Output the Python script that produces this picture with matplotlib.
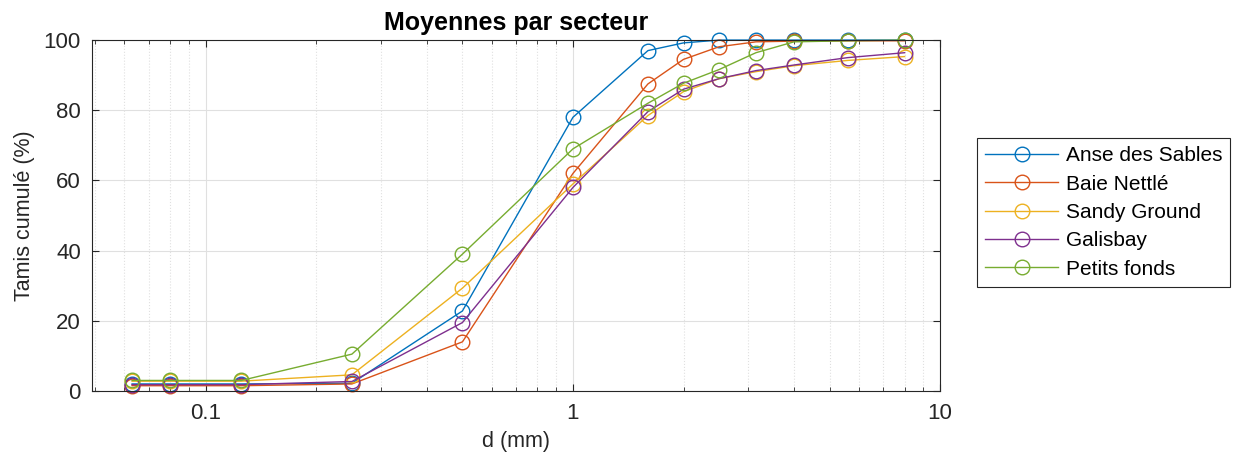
import numpy as np
import matplotlib
matplotlib.use('Agg')
import matplotlib.pyplot as plt
from matplotlib.ticker import LogLocator, NullFormatter

plt.rcParams['font.family'] = ['Liberation Sans', 'DejaVu Sans']

# tamis (mm)
d_mm = [0.063, 0.08, 0.125, 0.25, 0.5, 1, 1.6, 2, 2.5, 3.15, 4, 5.6, 8]

anse_des_sables = [2.0, 2.0, 2.0, 2.2, 22.8, 78.0, 97.0, 99.2, 100.0, 100.0, 100.0, 100.0, 100.0]
baie_nettle = [1.5, 1.5, 1.5, 2.0, 14.0, 62.0, 87.5, 94.5, 98.1, 99.5, 99.7, 99.8, 99.8]
sandy_ground = [2.8, 2.8, 2.8, 4.6, 29.3, 59.0, 78.5, 85.3, 89.0, 91.0, 92.7, 94.2, 95.3]
galisbay = [1.8, 1.8, 1.8, 2.7, 19.5, 58.0, 79.6, 86.0, 89.0, 91.3, 92.9, 95.0, 96.4]
petits_fonds = [3.0, 3.0, 3.0, 10.5, 39.0, 69.0, 82.0, 87.7, 91.6, 96.4, 99.5, 99.8, 100.0]

series = [('Anse des Sables', anse_des_sables),
          ('Baie Nettlé', baie_nettle),
          ('Sandy Ground', sandy_ground),
          ('Galisbay', galisbay),
          ('Petits fonds', petits_fonds)]
colors = ['#0072BD', '#D95319', '#EDB120', '#7E2F8E', '#77AC30']

fig = plt.figure(figsize=(12.4, 4.66), dpi=100)
ax = fig.add_axes([0.0742, 0.161, 0.684, 0.753])

for (name, vals), c in zip(series, colors):
    ax.plot(d_mm, vals, '-o', color=c, lw=1.0, ms=10.5, mfc='none', mew=1.0,
            label=name, clip_on=False)

ax.set_xscale('log')
ax.set_xlim(0.049, 10)
ax.set_ylim(0, 100)
ax.set_yticks([0, 20, 40, 60, 80, 100])
ax.set_xticks([0.1, 1, 10])
ax.set_xticklabels(['0.1', '1', '10'])
ax.xaxis.set_minor_locator(LogLocator(base=10, subs=np.arange(2, 10)))
ax.xaxis.set_minor_formatter(NullFormatter())

ax.grid(True, which='major', color='#e0e0e0', lw=0.8)
ax.grid(True, which='minor', axis='x', color='#e0e0e0', lw=0.8, ls=':')
ax.set_axisbelow(True)
ax.tick_params(which='both', direction='in', top=True, right=True, labelsize=16, colors='#262626')
ax.tick_params(which='major', length=5)
ax.tick_params(which='minor', length=3)
ax.tick_params(axis='y', pad=8)
ax.tick_params(axis='x', pad=9)
for s in ax.spines.values():
    s.set_color('#262626')

ax.set_xlabel('d (mm)', fontsize=15.5, color='#262626', labelpad=5)
ax.set_ylabel('Tamis cumulé (%)', fontsize=15.5, color='#262626', labelpad=6)
ax.set_title('Moyennes par secteur', fontsize=18, fontweight='bold', pad=7)

leg = ax.legend(loc='upper left', bbox_to_anchor=(0.788, 0.704), bbox_transform=fig.transFigure,
                borderaxespad=0, fontsize=15, handlelength=3.5, fancybox=False, framealpha=1,
                edgecolor='#262626', borderpad=0.4, labelspacing=0.45, handletextpad=0.35)
leg.get_frame().set_linewidth(0.8)

fig.savefig('out.png', dpi=100)
